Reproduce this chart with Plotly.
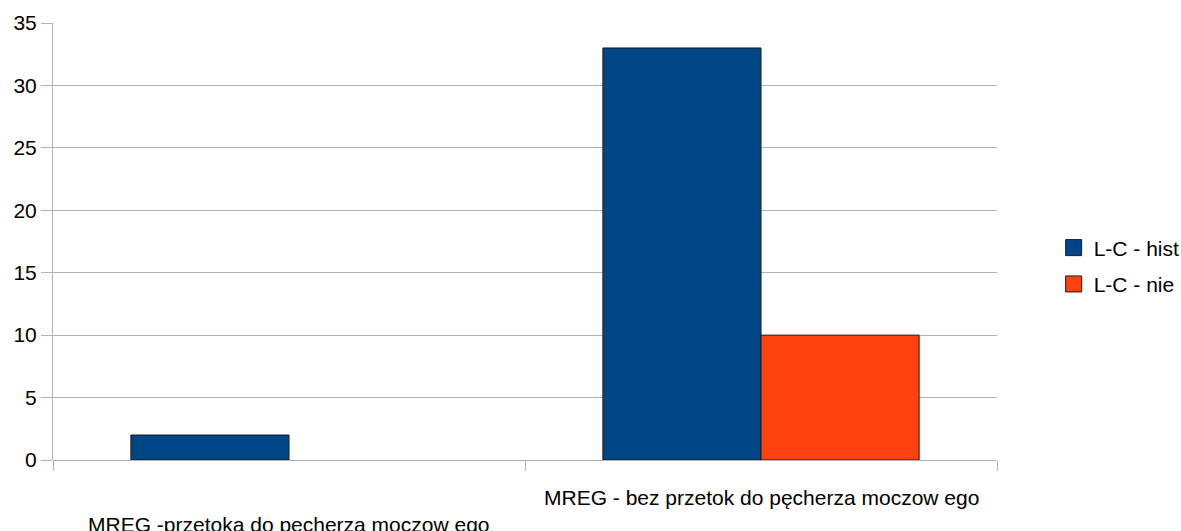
import plotly.graph_objects as go

categories = [
    "MREG -przetoka do pęcherza moczow ego",
    "MREG - bez przetok do pęcherza moczow ego",
]
series_names = ["L-C - hist", "L-C - nie"]
hist_values = [2, 33]
nie_values = [0, 10]
y_ticks = [0, 5, 10, 15, 20, 25, 30, 35]

colors = ["#004586", "#ff420e"]
grid = "#b3b3b3"
edge = "#1a1a1a"
font_family = "Liberation Sans, Arial, sans-serif"
fsize = 21

fig = go.Figure()
for i, (name, vals, col) in enumerate(zip(series_names, [hist_values, nie_values], colors)):
    # empty bars get no outline
    widths = [1 if v else 0 for v in vals]
    fig.add_trace(go.Bar(
        x=categories, y=vals, name=name, showlegend=False,
        marker=dict(color=col, line=dict(color=edge, width=widths)),
    ))
    # legend swatch
    fig.add_trace(go.Scatter(
        x=[None], y=[None], mode="markers", name=name,
        legendgroup=f"g{i}",
        marker=dict(symbol="square", size=16, color=col,
                    line=dict(color=edge, width=1)),
    ))

# category labels, staggered on two rows
label_shift = [-51, -24]
for cat, shift in zip(categories, label_shift):
    fig.add_annotation(
        x=cat, y=0, xref="x", yref="y", text=cat, showarrow=False,
        yshift=shift, yanchor="top",
        font=dict(family=font_family, size=fsize, color="#000000"),
    )

fig.update_layout(
    width=1181, height=531,
    margin=dict(l=53, r=184, t=23, b=71, autoexpand=False),
    paper_bgcolor="white", plot_bgcolor="white",
    barmode="group", bargap=0.33, bargroupgap=0,
    font=dict(family=font_family, size=fsize, color="#000000"),
    showlegend=True,
    legend=dict(
        x=1.06, y=0.444, xanchor="left", yanchor="middle",
        font=dict(family=font_family, size=fsize, color="#000000"),
        traceorder="grouped", tracegroupgap=6,
        itemwidth=30,
        bgcolor="rgba(0,0,0,0)",
    ),
)
fig.update_xaxes(
    type="category", showticklabels=False,
    ticks="outside", tickson="boundaries", ticklen=10, tickcolor=grid,
    showgrid=False, showline=False, zeroline=False,
)
fig.update_yaxes(
    range=[0, 35], tickvals=y_ticks,
    ticks="outside", ticklen=11, tickcolor=grid,
    showgrid=True, gridcolor=grid, gridwidth=1,
    showline=True, linecolor=grid, linewidth=1,
    zeroline=True, zerolinecolor=grid, zerolinewidth=1,
    tickfont=dict(family=font_family, size=fsize, color="#000000"),
)

fig.write_html("out.html")
